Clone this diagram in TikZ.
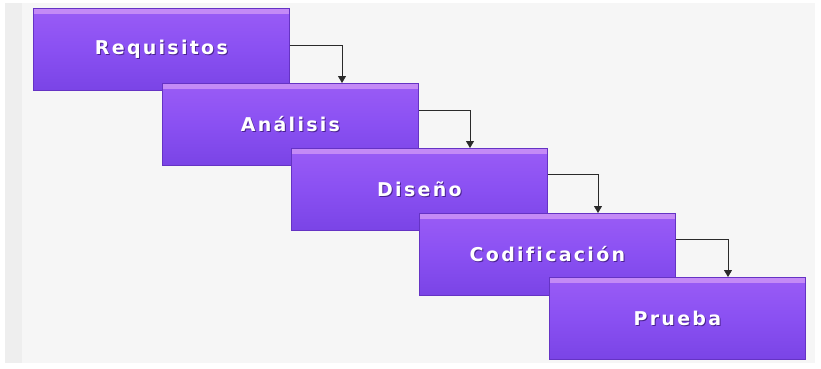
\documentclass[tikz,border=0pt]{standalone}
\usepackage{fontspec}
\newfontfamily\boxfont[LetterSpace=12,Ligatures={NoCommon}]{DejaVu Sans Bold}
\usetikzlibrary{arrows.meta,positioning,calc}
\definecolor{bgpanel}{HTML}{F6F6F6}
\definecolor{bgstrip}{HTML}{EEEEEE}
\definecolor{purtop}{HTML}{9A5CF6}
\definecolor{purmid}{HTML}{8A50F2}
\definecolor{purbot}{HTML}{7A44E6}
\definecolor{purhi}{HTML}{C48AF6}
\definecolor{purline}{HTML}{6533C4}
\definecolor{txtshadow}{HTML}{4A2290}
\definecolor{arrowcol}{HTML}{2A2A2A}
\begin{document}
\begin{tikzpicture}[x=1pt,y=-1pt,
  phase/.style={draw=purline, line width=0.8pt, top color=purtop, bottom color=purbot, middle color=purmid,
    minimum width=256pt, minimum height=82pt, inner sep=0pt, anchor=north west},
  phasetext/.style={font=\boxfont\fontsize{19}{22}\selectfont},
  flow/.style={draw=arrowcol, line width=0.8pt, -{Triangle[width=8pt,length=7pt]}}]
\useasboundingbox (0,0) rectangle (821,369);
\fill[white] (0,0) rectangle (821,369);
\fill[bgpanel] (5,3) rectangle (815,363);
\fill[bgstrip] (5,3) rectangle (22,363);
% boxes
\node[phase] (b1) at (33,8) {};
\node[phase] (b2) at (162,83) {};
\node[phase] (b3) at (291,148) {};
\node[phase] (b4) at (419,213) {};
\node[phase] (b5) at (549,277) {};
\foreach \b in {b1,b2,b3,b4,b5}{
  \fill[purhi] ($(\b.north west)+(1,1)$) rectangle ($(\b.north east)+(-1,6)$);
}
\foreach \b/\t in {b1/Requisitos,b2/Análisis,b3/Diseño,b4/Codificación,b5/Prueba}{
  \node[phasetext, text=txtshadow] at ($(\b.center)+(1,1)$) {\t};
  \node[phasetext, text=white] (\b t) at ($(\b.center)+(0,0)$) {\t};
}
% connectors
\coordinate (c1) at (342,45);
\coordinate (c2) at (470,110);
\coordinate (c3) at (598,174);
\coordinate (c4) at (728,239);
\draw[flow] (b1.east |- c1) -- (c1) -- (c1 |- b2.north);
\draw[flow] (b2.east |- c2) -- (c2) -- (c2 |- b3.north);
\draw[flow] (b3.east |- c3) -- (c3) -- (c3 |- b4.north);
\draw[flow] (b4.east |- c4) -- (c4) -- (c4 |- b5.north);
\end{tikzpicture}
\end{document}
